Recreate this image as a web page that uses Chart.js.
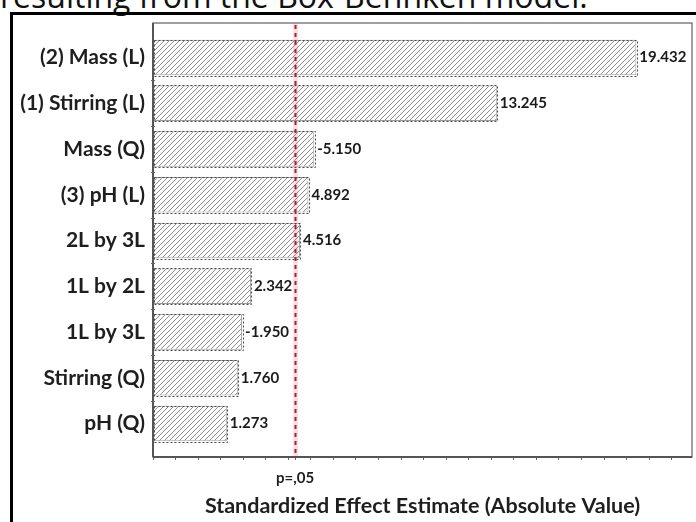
<!DOCTYPE html>
<html>
<head>
<meta charset="utf-8">
<script src="https://cdn.jsdelivr.net/npm/chart.js@4.4.1/dist/chart.umd.min.js"></script>
<style>
  html, body { margin: 0; padding: 0; background: #fff; }
  body { width: 696px; height: 522px; position: relative; overflow: hidden; }
  #caption { position: absolute; left: 0; top: -20px; font: 32px 'Open Sans', sans-serif; line-height: 32px; white-space: nowrap; color: #111; }
  #frame { position: absolute; left: 10px; top: 12px; width: 700px; height: 530px; border-left: 3px solid #000; border-top: 3px solid #000; box-sizing: border-box; }
  #wrap { position: absolute; left: 0; top: 0; width: 696px; height: 522px; }
</style>
</head>
<body>
<div id="caption">resulting from the Box-Behnken model.</div>
<div id="frame"></div>
<div id="wrap"><canvas id="c" width="696" height="522"></canvas></div>
<script>
// Pareto of standardized effects
const factors = ['(2) Mass (L)', '(1) Stirring (L)', 'Mass (Q)', '(3) pH (L)', '2L by 3L', '1L by 2L', '1L by 3L', 'Stirring (Q)', 'pH (Q)'];
const effects = [19.432, 13.245, -5.150, 4.892, 4.516, 2.342, -1.950, 1.760, 1.273];
const pCritical = 4.303;
const pLabel = 'p=,05';
const xTitle = 'Standardized Effect Estimate (Absolute Value)';

const FONT = "Lato, 'Open Sans', sans-serif";

// diagonal hatch fill for the bars
function hatchPattern() {
  const s = 5;
  const tile = document.createElement('canvas');
  tile.width = s; tile.height = s;
  const t = tile.getContext('2d');
  t.fillStyle = '#ffffff';
  t.fillRect(0, 0, s, s);
  t.strokeStyle = '#8e8e8e';
  t.lineWidth = 1;
  t.beginPath();
  t.moveTo(0, s); t.lineTo(s, 0);
  t.moveTo(-1, 1); t.lineTo(1, -1);
  t.moveTo(s - 1, s + 1); t.lineTo(s + 1, s - 1);
  t.stroke();
  return t.createPattern(tile, 'repeat');
}

const plotFrame = {
  id: 'plotFrame',
  afterDraw(chart) {
    const { ctx, chartArea: a, scales: { y } } = chart;
    ctx.save();
    ctx.strokeStyle = '#808080';
    ctx.lineWidth = 1.5;
    ctx.strokeRect(a.left, a.top, a.right - a.left, a.bottom - a.top);
    ctx.strokeStyle = '#555';
    ctx.lineWidth = 2;
    ctx.beginPath();
    ctx.moveTo(a.left, a.bottom); ctx.lineTo(a.right, a.bottom);
    ctx.moveTo(a.left, a.top); ctx.lineTo(a.left, a.bottom);
    ctx.stroke();
    // small marks between categories on the left axis
    ctx.lineWidth = 1;
    ctx.strokeStyle = '#666';
    for (let i = 0; i < factors.length - 1; i++) {
      const py = Math.round(y.getPixelForValue(i + 0.5)) + 0.5;
      ctx.beginPath();
      ctx.moveTo(a.left - 2, py);
      ctx.lineTo(a.left + 2, py);
      ctx.stroke();
    }
    ctx.restore();
  }
};

const barDecor = {
  id: 'barDecor',
  afterDatasetsDraw(chart) {
    const { ctx } = chart;
    const meta = chart.getDatasetMeta(0);
    ctx.save();
    meta.data.forEach((bar, i) => {
      const { x, y, base, height } = bar.getProps(['x', 'y', 'base', 'height'], true);
      // dotted outline
      ctx.setLineDash([2, 2]);
      ctx.strokeStyle = '#4a4a4a';
      ctx.lineWidth = 1;
      ctx.strokeRect(Math.round(base) + 0.5, Math.round(y - height / 2) + 0.5, Math.round(x - base), Math.round(height));
      ctx.setLineDash([]);
      // signed effect value
      ctx.fillStyle = '#1a1a1a';
      ctx.font = 'bold 15px ' + FONT;
      ctx.textAlign = 'left';
      ctx.textBaseline = 'middle';
      ctx.fillText(effects[i].toFixed(3), x + 3, y);
    });
    ctx.restore();
  }
};

const pLine = {
  id: 'pLine',
  afterDatasetsDraw(chart) {
    const { ctx, chartArea: a, scales: { x } } = chart;
    const px = Math.round(x.getPixelForValue(pCritical)) + 0.5;
    ctx.save();
    ctx.strokeStyle = 'rgba(230, 60, 70, 0.16)';
    ctx.lineWidth = 5;
    ctx.beginPath(); ctx.moveTo(px, a.top); ctx.lineTo(px, a.bottom); ctx.stroke();
    ctx.strokeStyle = '#a3232b';
    ctx.lineWidth = 2;
    ctx.setLineDash([4, 4]);
    ctx.beginPath(); ctx.moveTo(px, a.top + 2); ctx.lineTo(px, a.bottom); ctx.stroke();
    ctx.restore();
  }
};

new Chart(document.getElementById('c'), {
  type: 'bar',
  data: {
    datasets: [{
      data: effects.map((e, i) => ({ x: Math.abs(e), y: i })),
      base: -2,
      backgroundColor: hatchPattern(),
      borderColor: '#9a9a9a',
      borderWidth: 1,
      categoryPercentage: 1,
      barPercentage: 0.78
    }]
  },
  options: {
    indexAxis: 'y',
    responsive: false,
    animation: false,
    devicePixelRatio: 1,
    layout: { padding: { top: 23, right: 4, left: 0, bottom: 0 } },
    plugins: { legend: { display: false }, tooltip: { enabled: false } },
    scales: {
      y: {
        type: 'linear',
        reverse: true,
        offset: false,
        min: -0.754,
        max: 8.732,
        afterBuildTicks: (s) => { s.ticks = factors.map((_, i) => ({ value: i })); },
        afterFit: (s) => { s.width = 153; },
        grid: { display: false, drawTicks: false, offset: false },
        border: { display: false },
        ticks: {
          autoSkip: false,
          padding: 8,
          color: '#1e1e1e',
          font: { family: FONT, size: 21, weight: 'bold' },
          callback: (v) => factors[v] ?? ''
        }
      },
      x: {
        type: 'linear',
        min: -2,
        max: 21.9,
        afterBuildTicks: (s) => {
          const t = [];
          for (let v = -2; v <= 21; v++) t.push({ value: v });
          t.push({ value: pCritical });
          t.sort((a, b) => a.value - b.value);
          s.ticks = t;
        },
        afterFit: (s) => { s.height = 65; },
        grid: { drawOnChartArea: false, drawTicks: true, tickLength: 3, color: '#666' },
        border: { display: false },
        ticks: {
          autoSkip: false,
          maxRotation: 0,
          padding: 9,
          color: '#1e1e1e',
          font: { family: FONT, size: 15, weight: 'bold' },
          callback: (v) => (Math.abs(v - pCritical) < 1e-9 ? pLabel : '')
        },
        title: {
          display: true,
          text: xTitle,
          color: '#1e1e1e',
          font: { family: FONT, size: 21.5, weight: 'bold' },
          padding: { top: 2, bottom: 3 }
        }
      }
    }
  },
  plugins: [plotFrame, pLine, barDecor]
});
</script>
</body>
</html>
